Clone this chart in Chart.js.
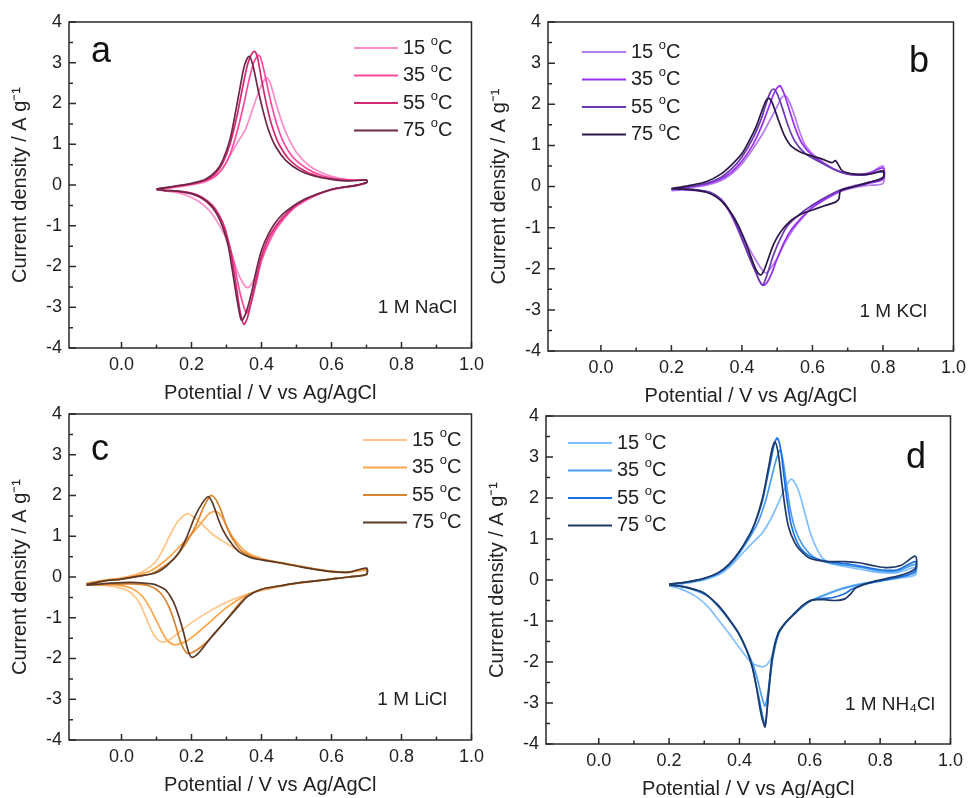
<!DOCTYPE html>
<html lang="en">
<head>
<meta charset="UTF-8">
<title>CV curves at different temperatures</title>
<style>
  body { margin: 0; background: #fff; }
  #wrap { position: relative; width: 971px; height: 798px; overflow: hidden; background: #fff; }
  #wrap canvas { position: absolute; }
</style>
</head>
<body>
<div id="wrap">
  <canvas id="cvA"></canvas>
  <canvas id="cvB"></canvas>
  <canvas id="cvC"></canvas>
  <canvas id="cvD"></canvas>
</div>

<script src="https://cdn.jsdelivr.net/npm/chart.js"></script>
<script>
// ---- data: [potential V, current density A/g], forward scan then reverse scan ----
const temps = ['15 °C', '35 °C', '55 °C', '75 °C'];

const nacl15 = [[0.10,-0.10],[0.15,-0.06],[0.20,0.00],[0.24,0.08],[0.27,0.22],[0.29,0.42],[0.31,0.72],[0.33,1.02],[0.355,1.38],[0.38,2.00],[0.40,2.45],[0.415,2.63],[0.425,2.50],[0.44,2.05],[0.46,1.50],[0.48,1.10],[0.50,0.80],[0.53,0.52],[0.56,0.35],[0.60,0.21],[0.65,0.13],[0.70,0.12],
  [0.70,0.05],[0.67,-0.02],[0.63,-0.07],[0.60,-0.12],[0.56,-0.24],[0.52,-0.42],[0.49,-0.60],[0.46,-0.88],[0.44,-1.12],[0.42,-1.45],[0.40,-1.85],[0.385,-2.20],[0.37,-2.45],[0.36,-2.52],[0.35,-2.45],[0.335,-2.20],[0.32,-1.85],[0.305,-1.45],[0.29,-1.15],[0.27,-0.85],[0.25,-0.62],[0.22,-0.40],[0.19,-0.27],[0.16,-0.19],[0.13,-0.15],[0.10,-0.12]];
const nacl35 = [[0.10,-0.10],[0.15,-0.05],[0.20,0.02],[0.24,0.10],[0.27,0.24],[0.29,0.42],[0.31,0.75],[0.33,1.30],[0.35,2.00],[0.365,2.60],[0.38,3.05],[0.393,3.18],[0.40,3.05],[0.41,2.70],[0.425,2.10],[0.44,1.60],[0.46,1.10],[0.49,0.68],[0.53,0.40],[0.57,0.24],[0.61,0.16],[0.66,0.12],[0.70,0.12],
  [0.70,0.06],[0.67,-0.01],[0.63,-0.06],[0.60,-0.11],[0.56,-0.23],[0.52,-0.40],[0.49,-0.58],[0.46,-0.85],[0.44,-1.08],[0.42,-1.40],[0.40,-1.85],[0.385,-2.40],[0.37,-2.90],[0.358,-3.15],[0.35,-3.00],[0.34,-2.70],[0.33,-2.30],[0.32,-1.85],[0.30,-1.25],[0.28,-0.82],[0.26,-0.55],[0.23,-0.33],[0.20,-0.22],[0.16,-0.16],[0.12,-0.13],[0.10,-0.11]];
const nacl55 = [[0.10,-0.10],[0.15,-0.04],[0.20,0.03],[0.24,0.12],[0.27,0.30],[0.29,0.55],[0.31,1.00],[0.33,1.70],[0.345,2.35],[0.36,2.95],[0.372,3.22],[0.38,3.28],[0.388,3.15],[0.40,2.60],[0.415,1.95],[0.43,1.45],[0.45,1.00],[0.48,0.62],[0.52,0.36],[0.56,0.22],[0.60,0.15],[0.65,0.11],[0.70,0.12],
  [0.70,0.06],[0.67,-0.01],[0.63,-0.06],[0.60,-0.11],[0.56,-0.22],[0.52,-0.38],[0.49,-0.55],[0.46,-0.80],[0.44,-1.02],[0.42,-1.30],[0.40,-1.75],[0.385,-2.30],[0.37,-2.90],[0.36,-3.25],[0.35,-3.42],[0.34,-3.15],[0.33,-2.60],[0.32,-2.05],[0.31,-1.55],[0.295,-1.05],[0.28,-0.75],[0.26,-0.50],[0.23,-0.30],[0.20,-0.20],[0.16,-0.15],[0.12,-0.13],[0.10,-0.11]];
const nacl75 = [[0.10,-0.10],[0.15,-0.03],[0.20,0.04],[0.24,0.14],[0.27,0.34],[0.29,0.62],[0.31,1.12],[0.325,1.75],[0.34,2.45],[0.352,2.95],[0.365,3.16],[0.375,2.95],[0.39,2.35],[0.405,1.80],[0.42,1.35],[0.44,0.95],[0.47,0.60],[0.51,0.35],[0.55,0.22],[0.60,0.14],[0.65,0.10],[0.70,0.12],
  [0.70,0.06],[0.67,-0.01],[0.63,-0.06],[0.60,-0.11],[0.56,-0.22],[0.52,-0.36],[0.49,-0.52],[0.46,-0.72],[0.44,-0.92],[0.42,-1.20],[0.40,-1.60],[0.385,-2.10],[0.37,-2.70],[0.355,-3.15],[0.343,-3.32],[0.335,-3.05],[0.325,-2.55],[0.315,-2.00],[0.305,-1.50],[0.29,-1.05],[0.275,-0.75],[0.255,-0.50],[0.23,-0.32],[0.20,-0.21],[0.16,-0.15],[0.12,-0.13],[0.10,-0.11]];

const kcl15 = [[0.20,-0.08],[0.25,-0.03],[0.30,0.03],[0.34,0.14],[0.37,0.30],[0.40,0.55],[0.43,0.90],[0.46,1.30],[0.48,1.62],[0.50,1.95],[0.512,2.15],[0.522,2.21],[0.535,2.05],[0.55,1.70],[0.565,1.30],[0.58,1.00],[0.61,0.72],[0.65,0.48],[0.69,0.33],[0.73,0.30],[0.77,0.36],[0.80,0.50],
  [0.80,0.08],[0.76,0.03],[0.72,-0.02],[0.68,-0.12],[0.64,-0.30],[0.60,-0.52],[0.57,-0.78],[0.545,-1.05],[0.52,-1.40],[0.50,-1.75],[0.48,-2.00],[0.468,-2.10],[0.455,-2.00],[0.44,-1.80],[0.42,-1.50],[0.40,-1.15],[0.38,-0.82],[0.36,-0.55],[0.34,-0.33],[0.31,-0.16],[0.27,-0.10],[0.23,-0.08],[0.20,-0.10]];
const kcl35 = [[0.20,-0.07],[0.25,-0.01],[0.30,0.06],[0.34,0.18],[0.37,0.35],[0.40,0.62],[0.43,1.00],[0.455,1.45],[0.475,1.90],[0.49,2.25],[0.50,2.40],[0.508,2.45],[0.52,2.25],[0.535,1.85],[0.55,1.45],[0.57,1.05],[0.60,0.75],[0.64,0.52],[0.68,0.35],[0.72,0.28],[0.76,0.32],[0.80,0.45],
  [0.80,0.18],[0.76,0.08],[0.72,0.00],[0.68,-0.10],[0.64,-0.28],[0.60,-0.50],[0.57,-0.75],[0.54,-1.05],[0.52,-1.35],[0.50,-1.75],[0.485,-2.10],[0.47,-2.35],[0.46,-2.40],[0.45,-2.30],[0.44,-2.10],[0.42,-1.70],[0.40,-1.28],[0.38,-0.88],[0.36,-0.55],[0.34,-0.32],[0.31,-0.15],[0.27,-0.09],[0.23,-0.07],[0.20,-0.07]];
const kcl55 = [[0.20,-0.06],[0.25,0.00],[0.30,0.08],[0.34,0.22],[0.37,0.42],[0.40,0.72],[0.43,1.15],[0.455,1.65],[0.47,2.05],[0.48,2.28],[0.49,2.37],[0.50,2.25],[0.515,1.90],[0.53,1.50],[0.55,1.10],[0.58,0.80],[0.62,0.60],[0.66,0.42],[0.70,0.30],[0.75,0.28],[0.80,0.35],
  [0.80,0.20],[0.76,0.10],[0.72,0.02],[0.68,-0.08],[0.64,-0.25],[0.60,-0.45],[0.56,-0.70],[0.53,-0.95],[0.51,-1.25],[0.49,-1.65],[0.475,-2.05],[0.465,-2.30],[0.459,-2.40],[0.45,-2.30],[0.44,-2.10],[0.42,-1.70],[0.40,-1.25],[0.38,-0.85],[0.36,-0.52],[0.34,-0.30],[0.31,-0.14],[0.27,-0.08],[0.23,-0.06],[0.20,-0.06]];
const kcl75 = [[0.20,-0.05],[0.25,0.02],[0.30,0.12],[0.34,0.30],[0.37,0.52],[0.40,0.80],[0.42,1.10],[0.44,1.45],[0.455,1.80],[0.468,2.08],[0.476,2.15],[0.485,2.05],[0.50,1.70],[0.52,1.25],[0.54,0.98],[0.57,0.82],[0.60,0.74],[0.63,0.66],[0.655,0.58],[0.665,0.63],[0.672,0.55],[0.685,0.38],[0.72,0.30],[0.76,0.30],[0.80,0.38],
  [0.80,0.22],[0.76,0.10],[0.72,0.00],[0.68,-0.10],[0.675,-0.30],[0.665,-0.38],[0.63,-0.48],[0.60,-0.57],[0.57,-0.66],[0.54,-0.82],[0.51,-1.10],[0.49,-1.40],[0.475,-1.75],[0.462,-2.05],[0.452,-2.15],[0.44,-2.02],[0.425,-1.70],[0.41,-1.35],[0.39,-0.95],[0.37,-0.65],[0.35,-0.43],[0.33,-0.27],[0.30,-0.14],[0.26,-0.08],[0.22,-0.06],[0.20,-0.05]];

const licl15 = [[-0.10,-0.15],[-0.05,-0.08],[0.00,-0.02],[0.04,0.06],[0.07,0.18],[0.10,0.40],[0.12,0.70],[0.14,1.05],[0.16,1.35],[0.187,1.55],[0.21,1.45],[0.235,1.25],[0.26,1.05],[0.29,0.88],[0.32,0.72],[0.36,0.58],[0.40,0.46],[0.45,0.36],[0.50,0.28],[0.55,0.20],[0.60,0.14],[0.65,0.12],[0.70,0.16],
  [0.70,0.05],[0.65,0.00],[0.60,-0.05],[0.55,-0.10],[0.50,-0.16],[0.45,-0.24],[0.40,-0.33],[0.35,-0.45],[0.30,-0.62],[0.25,-0.85],[0.20,-1.12],[0.17,-1.32],[0.14,-1.52],[0.116,-1.60],[0.095,-1.45],[0.075,-1.10],[0.05,-0.62],[0.02,-0.35],[-0.02,-0.24],[-0.06,-0.20],[-0.10,-0.18]];
const licl35 = [[-0.10,-0.16],[-0.05,-0.08],[0.00,-0.03],[0.04,0.04],[0.08,0.14],[0.11,0.30],[0.14,0.52],[0.17,0.78],[0.20,1.05],[0.23,1.35],[0.25,1.55],[0.268,1.61],[0.285,1.50],[0.30,1.25],[0.32,0.95],[0.35,0.66],[0.38,0.50],[0.42,0.40],[0.46,0.33],[0.50,0.27],[0.55,0.19],[0.60,0.13],[0.65,0.11],[0.70,0.18],
  [0.70,0.06],[0.65,0.00],[0.60,-0.05],[0.55,-0.10],[0.50,-0.16],[0.45,-0.23],[0.40,-0.32],[0.35,-0.48],[0.30,-0.75],[0.26,-1.05],[0.22,-1.35],[0.19,-1.55],[0.165,-1.64],[0.149,-1.66],[0.13,-1.55],[0.11,-1.25],[0.085,-0.82],[0.06,-0.48],[0.03,-0.28],[-0.01,-0.20],[-0.05,-0.18],[-0.10,-0.19]];
const licl55 = [[-0.10,-0.18],[-0.05,-0.10],[0.00,-0.05],[0.05,0.02],[0.09,0.10],[0.12,0.25],[0.15,0.45],[0.18,0.78],[0.21,1.22],[0.235,1.72],[0.25,1.95],[0.258,2.00],[0.27,1.90],[0.285,1.62],[0.30,1.25],[0.32,0.90],[0.345,0.62],[0.37,0.50],[0.40,0.43],[0.45,0.36],[0.50,0.28],[0.55,0.20],[0.60,0.14],[0.65,0.12],[0.70,0.20],
  [0.70,0.07],[0.65,0.00],[0.60,-0.05],[0.55,-0.10],[0.50,-0.15],[0.45,-0.22],[0.40,-0.30],[0.36,-0.45],[0.33,-0.72],[0.30,-1.05],[0.26,-1.45],[0.23,-1.70],[0.205,-1.84],[0.187,-1.87],[0.17,-1.62],[0.155,-1.20],[0.135,-0.72],[0.11,-0.38],[0.08,-0.22],[0.03,-0.17],[-0.03,-0.18],[-0.10,-0.20]];
const licl75 = [[-0.10,-0.18],[-0.05,-0.10],[0.00,-0.05],[0.05,0.02],[0.10,0.11],[0.13,0.28],[0.16,0.55],[0.185,0.95],[0.21,1.49],[0.23,1.80],[0.247,1.97],[0.26,1.82],[0.277,1.41],[0.29,1.15],[0.306,0.92],[0.334,0.63],[0.372,0.47],[0.40,0.42],[0.45,0.35],[0.50,0.27],[0.55,0.19],[0.60,0.13],[0.65,0.12],[0.70,0.22],
  [0.70,0.07],[0.65,0.00],[0.60,-0.05],[0.55,-0.10],[0.50,-0.15],[0.45,-0.22],[0.40,-0.30],[0.36,-0.48],[0.334,-0.72],[0.296,-1.09],[0.258,-1.46],[0.22,-1.87],[0.20,-1.97],[0.19,-1.80],[0.178,-1.38],[0.165,-1.00],[0.154,-0.72],[0.14,-0.48],[0.125,-0.31],[0.10,-0.20],[0.087,-0.17],[0.03,-0.13],[-0.03,-0.15],[-0.10,-0.20]];

const nh15 = [[0.20,-0.13],[0.25,-0.08],[0.30,0.00],[0.34,0.12],[0.37,0.30],[0.40,0.57],[0.436,0.90],[0.464,1.14],[0.49,1.50],[0.51,1.87],[0.53,2.25],[0.548,2.46],[0.567,2.20],[0.586,1.63],[0.605,1.06],[0.633,0.57],[0.66,0.41],[0.70,0.33],[0.75,0.25],[0.80,0.18],[0.85,0.18],[0.90,0.30],
  [0.90,0.12],[0.85,0.04],[0.80,-0.02],[0.75,-0.08],[0.70,-0.18],[0.65,-0.33],[0.60,-0.52],[0.56,-0.80],[0.53,-1.05],[0.51,-1.30],[0.50,-1.55],[0.492,-1.87],[0.48,-2.05],[0.469,-2.11],[0.455,-2.10],[0.436,-2.03],[0.42,-1.88],[0.398,-1.63],[0.37,-1.30],[0.341,-0.98],[0.31,-0.65],[0.276,-0.40],[0.24,-0.24],[0.20,-0.14]];
const nh35 = [[0.20,-0.11],[0.25,-0.06],[0.30,0.03],[0.34,0.16],[0.37,0.35],[0.40,0.66],[0.43,1.05],[0.455,1.45],[0.475,1.95],[0.49,2.45],[0.505,2.95],[0.516,3.17],[0.525,2.85],[0.535,2.25],[0.545,1.70],[0.56,1.20],[0.58,0.85],[0.61,0.57],[0.65,0.42],[0.70,0.36],[0.75,0.30],[0.80,0.22],[0.85,0.22],[0.90,0.38],
  [0.90,0.18],[0.85,0.06],[0.80,-0.02],[0.76,-0.08],[0.72,-0.15],[0.68,-0.25],[0.64,-0.38],[0.60,-0.52],[0.56,-0.80],[0.53,-1.05],[0.51,-1.35],[0.495,-1.90],[0.485,-2.50],[0.473,-3.07],[0.462,-2.80],[0.452,-2.45],[0.44,-2.10],[0.42,-1.70],[0.398,-1.32],[0.37,-0.97],[0.34,-0.65],[0.31,-0.40],[0.276,-0.26],[0.24,-0.17],[0.20,-0.13]];
const nh55 = [[0.20,-0.10],[0.25,-0.05],[0.30,0.04],[0.34,0.17],[0.37,0.37],[0.40,0.68],[0.42,0.98],[0.436,1.23],[0.45,1.52],[0.465,1.92],[0.478,2.45],[0.49,2.95],[0.50,3.35],[0.508,3.46],[0.517,3.20],[0.527,2.50],[0.537,1.85],[0.547,1.35],[0.56,1.00],[0.575,0.76],[0.60,0.58],[0.65,0.45],[0.70,0.40],[0.75,0.33],[0.80,0.25],[0.85,0.25],[0.90,0.45],
  [0.90,0.22],[0.86,0.08],[0.82,0.01],[0.78,-0.06],[0.75,-0.12],[0.72,-0.22],[0.70,-0.33],[0.67,-0.42],[0.64,-0.45],[0.61,-0.48],[0.58,-0.62],[0.555,-0.82],[0.53,-1.06],[0.51,-1.32],[0.495,-1.85],[0.485,-2.60],[0.478,-3.20],[0.473,-3.54],[0.465,-3.30],[0.457,-2.95],[0.447,-2.55],[0.436,-2.10],[0.42,-1.70],[0.398,-1.30],[0.37,-0.95],[0.34,-0.63],[0.30,-0.32],[0.276,-0.24],[0.24,-0.16],[0.20,-0.12]];
const nh75 = [[0.20,-0.10],[0.25,-0.05],[0.30,0.04],[0.34,0.18],[0.37,0.38],[0.40,0.70],[0.436,1.22],[0.464,1.95],[0.483,2.76],[0.493,3.20],[0.501,3.37],[0.51,3.10],[0.52,2.40],[0.53,1.75],[0.54,1.28],[0.555,0.95],[0.57,0.75],[0.60,0.53],[0.65,0.45],[0.70,0.45],[0.74,0.42],[0.78,0.35],[0.82,0.30],[0.86,0.36],[0.90,0.58],
  [0.90,0.28],[0.86,0.12],[0.82,0.04],[0.78,-0.04],[0.75,-0.12],[0.73,-0.20],[0.715,-0.35],[0.70,-0.46],[0.67,-0.50],[0.64,-0.48],[0.605,-0.49],[0.58,-0.62],[0.558,-0.81],[0.53,-1.05],[0.51,-1.30],[0.492,-1.95],[0.482,-2.80],[0.473,-3.58],[0.465,-3.40],[0.459,-3.17],[0.448,-2.60],[0.436,-2.11],[0.42,-1.70],[0.398,-1.30],[0.37,-0.95],[0.34,-0.62],[0.30,-0.32],[0.276,-0.24],[0.24,-0.16],[0.20,-0.12]];

// ---- layout (page pixels) ----
const FONT = "'Liberation Sans', Arial, sans-serif";
const INK = '#222';
const padL = 69, padT = 22, padR = 16, padB = 57;

const panels = [
  { id: 'cvA', box: [69, 22, 474, 348], curves: [nacl15, nacl35, nacl55, nacl75],
    colors: ['#ff8cc8', '#ff4aa0', '#d02a72', '#6e2746'],
    letter: 'a', letterAt: [91, 62], legendAt: [354, 48], salt: '1 M NaCl', saltAt: [457, 313] },
  { id: 'cvB', box: [548, 22, 956, 351], curves: [kcl15, kcl35, kcl55, kcl75],
    colors: ['#b57af2', '#9a2ff0', '#6a3bb0', '#2a1745'],
    letter: 'b', letterAt: [909, 72], legendAt: [582, 52], salt: '1 M KCl', saltAt: [927, 317] },
  { id: 'cvC', box: [69, 414, 474, 740], curves: [licl15, licl35, licl55, licl75],
    colors: ['#ffc487', '#ffa447', '#d9822f', '#5a3a28'],
    letter: 'c', letterAt: [91, 460], legendAt: [363, 440], salt: '1 M LiCl', saltAt: [447, 705] },
  { id: 'cvD', box: [546, 416, 953, 744], curves: [nh15, nh35, nh55, nh75],
    colors: ['#7fbfff', '#4b9df0', '#1a6fe0', '#1f3a66'],
    letter: 'd', letterAt: [906, 468], legendAt: [568, 443], salt: '1 M NH₄Cl', saltAt: [935, 710] }
];

// draws frame, inward ticks, legend and in-plot labels
const cvDecor = {
  id: 'cvDecor',
  afterDraw(chart, args, o) {
    const { ctx, chartArea: a, scales: { x, y } } = chart;
    const ox = o.ox, oy = o.oy;
    ctx.save();
    ctx.strokeStyle = '#2a2a2a';
    ctx.lineWidth = 1.5;
    ctx.beginPath();
    x.ticks.forEach(t => {
      const k = Math.round(t.value * 10);
      if (Math.abs(t.value * 10 - k) > 1e-6) return;
      const px = x.getPixelForValue(t.value);
      ctx.moveTo(px, a.bottom);
      ctx.lineTo(px, a.bottom - (k % 2 === 0 ? 6 : 3.5));
    });
    y.ticks.forEach(t => {
      const py = y.getPixelForValue(t.value);
      ctx.moveTo(a.left, py);
      ctx.lineTo(a.left + (Number.isInteger(t.value) ? 7 : 4), py);
    });
    ctx.stroke();
    ctx.strokeRect(a.left, a.top, a.right - a.left, a.bottom - a.top);

    // legend
    ctx.textBaseline = 'middle';
    ctx.textAlign = 'left';
    chart.data.datasets.forEach((ds, i) => {
      const ly = o.legendAt[1] - oy + i * 27.5;
      const lx = o.legendAt[0] - ox;
      ctx.strokeStyle = ds.borderColor;
      ctx.lineWidth = 2;
      ctx.beginPath();
      ctx.moveTo(lx, ly);
      ctx.lineTo(lx + 44, ly);
      ctx.stroke();
      // "15 °C" drawn with a raised small o
      const parts = ds.label.split('°');
      ctx.fillStyle = INK;
      let tx = lx + 49;
      ctx.font = '20px ' + FONT;
      ctx.fillText(parts[0], tx, ly);
      tx += ctx.measureText(parts[0]).width;
      ctx.font = '13px ' + FONT;
      ctx.fillText('o', tx, ly - 7);
      tx += ctx.measureText('o').width;
      ctx.font = '20px ' + FONT;
      ctx.fillText(parts[1], tx, ly);
    });

    // panel letter and electrolyte
    ctx.textBaseline = 'alphabetic';
    ctx.fillStyle = '#111';
    ctx.font = '36px ' + FONT;
    ctx.fillText(o.letter, o.letterAt[0] - ox, o.letterAt[1] - oy);
    ctx.font = '19px ' + FONT;
    ctx.textAlign = 'right';
    ctx.fillStyle = INK;
    ctx.fillText(o.salt, o.saltAt[0] - ox, o.saltAt[1] - oy);
    ctx.restore();
  }
};

panels.forEach(p => {
  const [l, t, r, b] = p.box;
  const ox = l - padL, oy = t - padT;
  const cv = document.getElementById(p.id);
  cv.width = (r - l) + padL + padR;
  cv.height = (b - t) + padT + padB;
  cv.style.left = ox + 'px';
  cv.style.top = oy + 'px';

  new Chart(cv.getContext('2d'), {
    type: 'scatter',
    data: {
      datasets: p.curves.map((c, i) => ({
        label: temps[i],
        data: c.map(pt => ({ x: pt[0], y: pt[1] })),
        showLine: true,
        borderColor: p.colors[i],
        backgroundColor: p.colors[i],
        borderWidth: 1.7,
        pointRadius: 0,
        tension: 0.3,
        order: 3 - i
      }))
    },
    options: {
      responsive: false,
      animation: false,
      layout: { padding: { top: padT, right: padR, left: 0, bottom: 0 } },
      plugins: {
        legend: { display: false },
        tooltip: { enabled: false },
        cvDecor: { ox, oy, legendAt: p.legendAt, letter: p.letter, letterAt: p.letterAt,
                   salt: p.salt, saltAt: p.saltAt }
      },
      scales: {
        x: {
          type: 'linear',
          min: -0.15, max: 1.0,
          grid: { display: false, drawTicks: false },
          border: { display: false },
          afterFit(s) { s.height = padB; },
          ticks: {
            stepSize: 0.1, autoSkip: false, maxRotation: 0, maxTicksLimit: 100,
            padding: 6, color: INK, font: { family: FONT, size: 18 },
            callback(v) {
              const k = Math.round(v * 10);
              if (Math.abs(v * 10 - k) > 1e-6 || k % 2 !== 0) return '';
              return (k / 10).toFixed(1);
            }
          },
          title: { display: true, text: 'Potential / V vs Ag/AgCl', color: INK,
                   font: { family: FONT, size: 20 }, padding: { top: 0, bottom: 0 } }
        },
        y: {
          type: 'linear',
          min: -4, max: 4,
          grid: { display: false, drawTicks: false },
          border: { display: false },
          afterFit(s) { s.width = padL; },
          ticks: {
            stepSize: 0.5, autoSkip: false, maxTicksLimit: 100,
            padding: 7, color: INK, font: { family: FONT, size: 18 },
            callback(v) { return Number.isInteger(v) ? String(v) : ''; }
          },
          title: { display: true, text: 'Current density / A g⁻¹', color: INK,
                   font: { family: FONT, size: 20 }, padding: { top: 8, bottom: 0 } }
        }
      }
    },
    plugins: [cvDecor]
  });
});
</script>
</body>
</html>
